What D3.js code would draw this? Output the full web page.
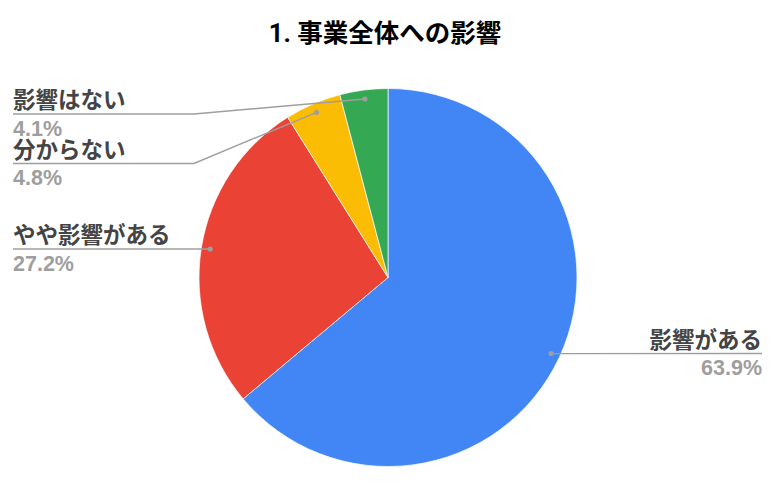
<!DOCTYPE html>
<html>
<head>
<meta charset="utf-8">
<script src="https://cdn.jsdelivr.net/npm/d3@7.9.0/dist/d3.min.js"></script>
<style>
  html, body { margin: 0; padding: 0; background: #fff; }
  svg { display: block; font-family: Roboto, "Noto Sans CJK JP", sans-serif; }
</style>
</head>
<body>
<svg id="chart" width="780" height="483"></svg>
<script>
// --- data ---
const title      = '1. 事業全体への影響';
const categories = ['影響がある', 'やや影響がある', '分からない', '影響はない'];
const values     = [63.9, 27.2, 4.8, 4.1];
const colors     = ['#4285F4', '#EA4335', '#FBBC04', '#34A853'];

// --- layout ---
const cx = 388, cy = 277.5, r = 189;
const dotR = 180;

const svg = d3.select('#chart');

svg.append('text')
  .attr('x', 385).attr('y', 42)
  .attr('text-anchor', 'middle')
  .attr('font-size', 25.5).attr('font-weight', 700)
  .attr('fill', '#000')
  .text(title);

const data = categories.map((c, i) => ({ label: c, value: values[i], color: colors[i] }));

const pie = d3.pie().value(d => d.value).sort(null);
const arc = d3.arc().innerRadius(0).outerRadius(r);
const arcs = pie(data);

const g = svg.append('g').attr('transform', `translate(${cx},${cy})`);

g.selectAll('path')
  .data(arcs)
  .join('path')
  .attr('d', arc)
  .attr('fill', d => d.data.color)
  .attr('stroke', '#fff')
  .attr('stroke-width', 0.7);

// dot sits on the slice's mid angle, just inside the rim
function dotPos(d) {
  const a = (d.startAngle + d.endAngle) / 2;
  return [cx + dotR * Math.sin(a), cy - dotR * Math.cos(a)];
}

// label line y per slice; right labels end at 762, left ones start at 13
const labelY = [353.5, 249, 163.5, 114];
const side   = ['right', 'left', 'left', 'left'];
const elbowX = 194;

const lab = svg.append('g');

arcs.forEach((d, i) => {
  const [px, py] = dotPos(d);
  const ly = labelY[i];
  const flat = Math.abs(py - ly) < 2;
  let pts;
  if (side[i] === 'right') pts = [[px, py], [762, ly]];
  else if (flat)           pts = [[px, ly], [13, ly]];
  else                     pts = [[px, py], [elbowX, ly], [13, ly]];

  lab.append('path')
    .attr('d', d3.line()(pts))
    .attr('fill', 'none')
    .attr('stroke', '#9e9e9e')
    .attr('stroke-width', 1.4);
  lab.append('circle')
    .attr('cx', px).attr('cy', flat ? ly : py)
    .attr('r', 2.6)
    .attr('fill', '#9e9e9e');

  const tx = side[i] === 'right' ? 762 : 13;
  const anchor = side[i] === 'right' ? 'end' : 'start';
  lab.append('text')
    .attr('x', tx).attr('y', ly - 6)
    .attr('text-anchor', anchor)
    .attr('font-size', 22.5).attr('font-weight', 700)
    .attr('fill', '#444')
    .text(d.data.label);
  lab.append('text')
    .attr('x', tx).attr('y', ly + 21.5)
    .attr('text-anchor', anchor)
    .attr('font-family', '"Liberation Sans", Arial, sans-serif')
    .attr('font-size', 21.5).attr('font-weight', 700)
    .attr('fill', '#9e9e9e')
    .text(d3.format('.1f')(d.data.value) + '%');
});
</script>
</body>
</html>
